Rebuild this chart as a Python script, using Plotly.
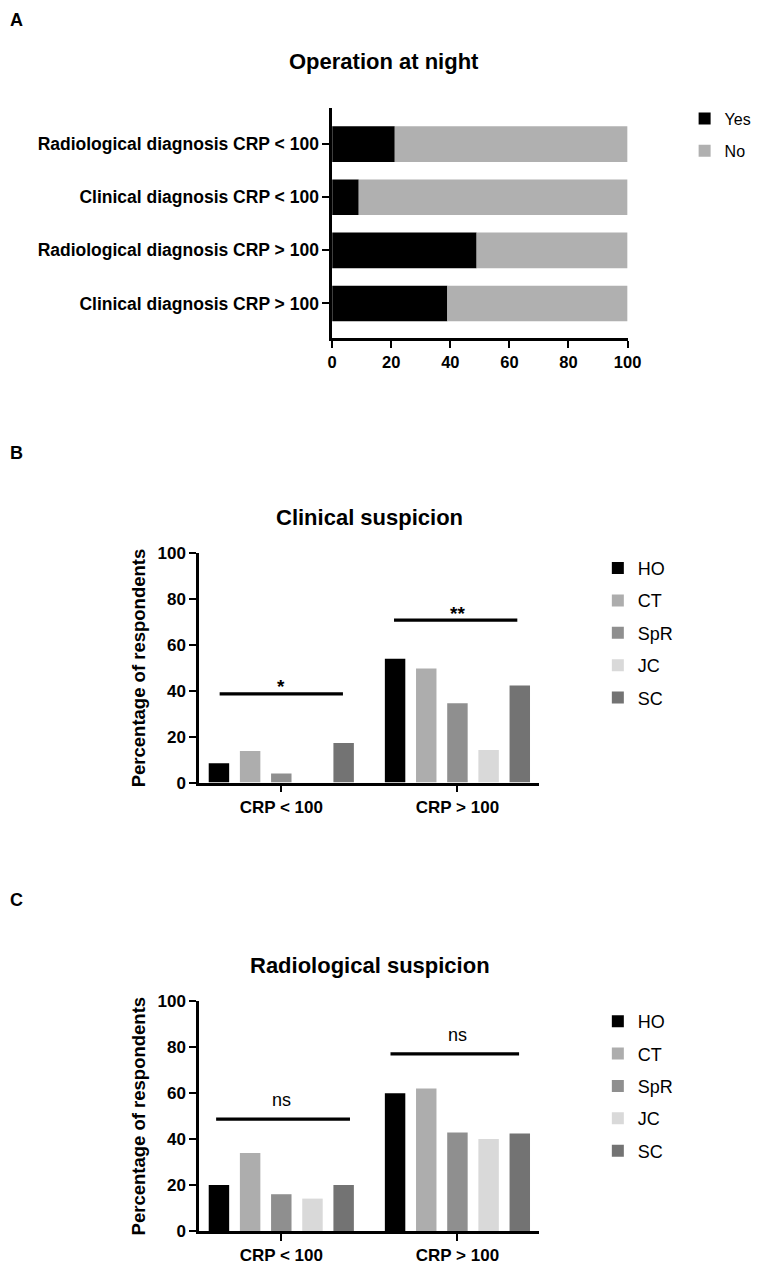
import plotly.graph_objects as go

# ---------------- data ----------------
a_categories = [
    "Radiological diagnosis CRP < 100",
    "Clinical diagnosis CRP < 100",
    "Radiological diagnosis CRP > 100",
    "Clinical diagnosis CRP > 100",
]
a_yes = [21.2, 9.0, 48.9, 39.0]
a_no = [78.8, 91.0, 51.1, 61.0]
a_ticks = [0, 20, 40, 60, 80, 100]

groups = ["CRP < 100", "CRP > 100"]
series = ["HO", "CT", "SpR", "JC", "SC"]
series_colors = ["#000000", "#adadad", "#8f8f8f", "#d9d9d9", "#737373"]

clinical_HO = [8.4, 54.0]
clinical_CT = [13.8, 49.8]
clinical_SpR = [4.0, 34.6]
clinical_JC = [0.0, 14.2]
clinical_SC = [17.3, 42.4]

radiological_HO = [20.0, 60.0]
radiological_CT = [34.0, 62.0]
radiological_SpR = [16.0, 42.9]
radiological_JC = [14.1, 40.0]
radiological_SC = [20.0, 42.4]

b_sig_y = [38.7, 70.9]
b_sig_text = ["*", "**"]
c_sig_y = [48.7, 77.1]
c_sig_text = ["ns", "ns"]

pct_ticks = [0, 20, 40, 60, 80, 100]

clinical = [clinical_HO, clinical_CT, clinical_SpR, clinical_JC, clinical_SC]
radiological = [radiological_HO, radiological_CT, radiological_SpR,
                radiological_JC, radiological_SC]

# ---------------- layout helpers ----------------
W, H = 762, 1273
FONT = "Liberation Sans, Arial, Helvetica, sans-serif"


def px(x):
    return x / W


def py(y):
    return 1 - y / H


fig = go.Figure()

# Panel A
fig.add_trace(go.Bar(
    y=a_categories, x=a_yes, orientation="h", name="Yes",
    marker=dict(color="#000000", line=dict(width=0)),
    xaxis="x", yaxis="y", offsetgroup="a", width=0.67,
    legend="legend", legendgroup="aYes",
))
fig.add_trace(go.Bar(
    y=a_categories, x=a_no, base=a_yes, orientation="h", name="No",
    marker=dict(color="#b0b0b0", line=dict(width=0)),
    xaxis="x", yaxis="y", offsetgroup="a", width=0.67,
    legend="legend", legendgroup="aNo",
))

# Panel B
for name, col, vals in zip(series, series_colors, clinical):
    fig.add_trace(go.Bar(
        x=groups, y=vals, name=name, marker=dict(color=col, line=dict(width=0)),
        xaxis="x2", yaxis="y2", legend="legend2", legendgroup="b" + name,
        offsetgroup=name,
    ))

# Panel C
for name, col, vals in zip(series, series_colors, radiological):
    fig.add_trace(go.Bar(
        x=groups, y=vals, name=name, marker=dict(color=col, line=dict(width=0)),
        xaxis="x3", yaxis="y3", legend="legend3", legendgroup="c" + name,
        offsetgroup=name,
    ))

axis_common = dict(
    showline=True, linecolor="black", linewidth=2.5, ticks="outside",
    ticklen=7, tickwidth=2, tickcolor="black", showgrid=False, zeroline=False,
    tickfont=dict(family=FONT, size=17, color="black", weight="bold"),
)

shapes = []
annotations = []

# significance bars
for axx, axy, ys, texts, x0s, x1s, shifts in [
    ("x2", "y2", b_sig_y, b_sig_text, [-0.35, -0.36], [0.35, 0.34], [7, 7]),
    ("x3", "y3", c_sig_y, c_sig_text, [-0.37, -0.38], [0.39, 0.35], [19, 19]),
]:
    for i, (yv, t) in enumerate(zip(ys, texts)):
        shapes.append(dict(type="line", xref=axx, yref=axy, x0=i + x0s[i],
                           x1=i + x1s[i], y0=yv, y1=yv,
                           line=dict(color="black", width=3.2)))
        annotations.append(dict(
            xref=axx, yref=axy, x=i, y=yv, text=t, showarrow=False,
            yanchor="middle", yshift=shifts[i],
            font=dict(family=FONT, size=19 if t != "ns" else 18, color="black",
                      weight="bold" if t != "ns" else "normal"),
        ))

# panel letters & titles
for letter, yy in [("A", 11), ("B", 451), ("C", 905)]:
    annotations.append(dict(xref="paper", yref="paper", x=px(3), y=py(yy),
                            xanchor="left", yanchor="middle", text=letter,
                            showarrow=False,
                            font=dict(family=FONT, size=18, color="black",
                                      weight="bold")))
for title, xx, yy in [("Operation at night", 389, 53),
                      ("Clinical suspicion", 374, 516),
                      ("Radiological suspicion", 374, 971)]:
    annotations.append(dict(xref="paper", yref="paper", x=px(xx), y=py(yy),
                            xanchor="center", yanchor="middle", text=title,
                            showarrow=False,
                            font=dict(family=FONT, size=22, color="black",
                                      weight="bold")))

legend_common = dict(
    bgcolor="rgba(0,0,0,0)", borderwidth=0, xanchor="left", yanchor="top",
    traceorder="grouped", itemclick=False, itemdoubleclick=False,
)

fig.update_layout(
    width=W, height=H, margin=dict(l=0, r=0, t=0, b=0),
    paper_bgcolor="white", plot_bgcolor="white",
    barmode="group", bargap=0.115, bargroupgap=0.344,
    font=dict(family=FONT, color="black"),
    xaxis=dict(domain=[px(335.5), px(638.5)], anchor="y", range=[0, 100],
               tickvals=a_ticks, **{**axis_common,
                                    "tickfont": dict(family=FONT, size=16.5,
                                                     color="black",
                                                     weight="bold")}),
    yaxis=dict(domain=[py(334), py(101)], anchor="x", type="category",
               categoryarray=a_categories, range=[3.65, -0.67],
               **{**axis_common,
                  "tickfont": dict(family=FONT, size=17.5, color="black",
                                   weight="bold")}),
    xaxis2=dict(domain=[px(199), px(548)], anchor="y2", type="category",
                categoryarray=groups, range=[-0.467, 1.465], **axis_common),
    yaxis2=dict(domain=[py(785.3), py(552.7)], anchor="x2", range=[0, 100],
                tickvals=pct_ticks,
                title=dict(text="Percentage of respondents", standoff=8,
                           font=dict(family=FONT, size=18.5, color="black",
                                     weight="bold")),
                **axis_common),
    xaxis3=dict(domain=[px(199), px(548)], anchor="y3", type="category",
                categoryarray=groups, range=[-0.467, 1.465], **axis_common),
    yaxis3=dict(domain=[py(1240.5), py(1007.3)], anchor="x3", range=[0, 100],
                tickvals=pct_ticks,
                title=dict(text="Percentage of respondents", standoff=8,
                           font=dict(family=FONT, size=18.5, color="black",
                                     weight="bold")),
                **axis_common),
    legend=dict(x=px(697), y=py(94), tracegroupgap=8.5,
                font=dict(family=FONT, size=16, color="black"),
                **legend_common),
    legend2=dict(x=px(608), y=py(549), tracegroupgap=6,
                 font=dict(family=FONT, size=18, color="black"),
                 **legend_common),
    legend3=dict(x=px(608), y=py(1009), tracegroupgap=6,
                 font=dict(family=FONT, size=18, color="black"),
                 **legend_common),
    shapes=shapes,
    annotations=annotations,
    showlegend=True,
)

fig.write_html("out.html")
